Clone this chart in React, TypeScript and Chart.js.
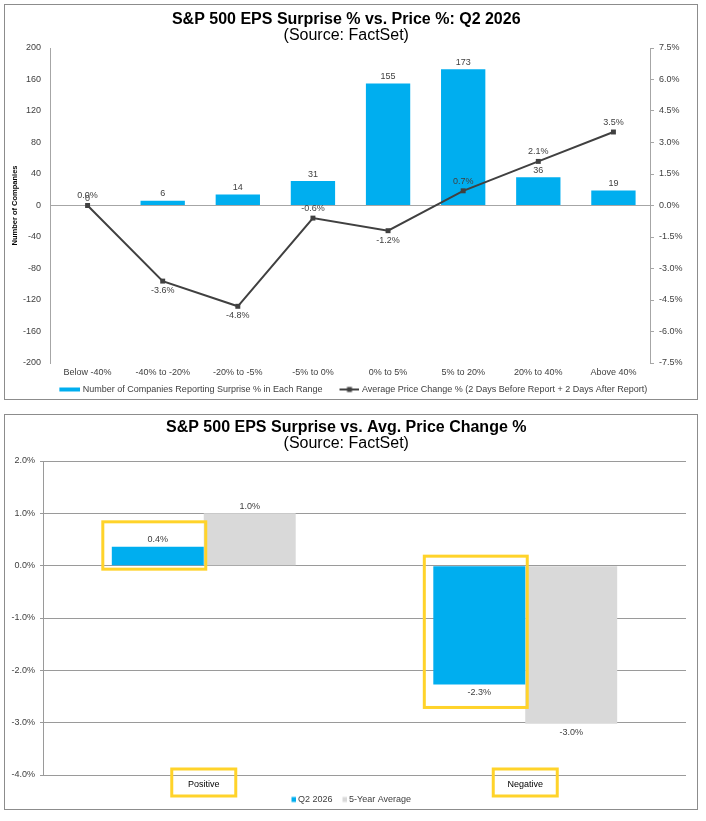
import React, { useEffect, useRef } from 'react';
import { Chart, registerables } from 'chart.js';

Chart.register(...registerables);

const FONT = "'Liberation Sans', Arial, Helvetica, sans-serif";
Chart.defaults.font.family = FONT;

// ---------- Top chart data ----------
const surpriseRanges = ['Below -40%', '-40% to -20%', '-20% to -5%', '-5% to 0%', '0% to 5%', '5% to 20%', '20% to 40%', 'Above 40%'];
const companyCounts = [0, 6, 14, 31, 155, 173, 36, 19];
const avgPriceChange = [0.0, -3.6, -4.8, -0.6, -1.2, 0.7, 2.1, 3.5];
const countTicks = [-200, -160, -120, -80, -40, 0, 40, 80, 120, 160, 200];
const priceTicks = [-7.5, -6.0, -4.5, -3.0, -1.5, 0.0, 1.5, 3.0, 4.5, 6.0, 7.5];
const topTitle = 'S&P 500 EPS Surprise % vs. Price %: Q2 2026';
const barSeriesName = 'Number of Companies Reporting Surprise % in Each Range';
const lineSeriesName = 'Average Price Change % (2 Days Before Report + 2 Days After Report)';

// label placement for line points (style)
const lineLabelAbove = [true, false, false, true, false, true, true, true];

// ---------- Bottom chart data ----------
const surpriseGroups = ['Positive', 'Negative'];
const q2Change = [0.36, -2.27];
const fiveYearChange = [1.0, -3.02];
const changeTicks = [-4, -3, -2, -1, 0, 1, 2];
const bottomTitle = 'S&P 500 EPS Surprise vs. Avg. Price Change %';
const q2Name = 'Q2 2026';
const fiveYearName = '5-Year Average';

const SOURCE = '(Source: FactSet)';

// ---------- styles ----------
const BLUE = '#00AEEF';
const GRAY_BAR = '#D9D9D9';
const DARK = '#404040';
const AXIS = '#A6A6A6';
const GRID = '#9A9A9A';
const YELLOW = '#FFD32A';
const LABEL = '#404040';

function makeSwatch(kind: 'bar' | 'line' | 'square', color: string) {
  const w = kind === 'square' ? 18 : 37;
  const h = 8;
  const c = document.createElement('canvas');
  c.width = w;
  c.height = h;
  const ctx = c.getContext('2d')!;
  if (kind === 'bar') {
    ctx.fillStyle = color;
    ctx.fillRect(16, h / 2 - 2, w - 16, 4);
  } else if (kind === 'line') {
    ctx.strokeStyle = color;
    ctx.lineWidth = 2;
    ctx.beginPath();
    ctx.moveTo(17, h / 2);
    ctx.lineTo(w, h / 2);
    ctx.stroke();
    ctx.fillStyle = color;
    ctx.fillRect(27 - 2.5, h / 2 - 2.5, 5, 5);
  } else {
    ctx.fillStyle = color;
    ctx.fillRect(w - 5, h / 2 - 2.5, 5, 5);
  }
  return c;
}

const topLabelsPlugin = {
  id: 'topLabels',
  afterDatasetsDraw(chart: any) {
    const ctx = chart.ctx;
    ctx.save();
    ctx.font = `9px ${FONT}`;
    ctx.fillStyle = LABEL;
    ctx.textAlign = 'center';
    ctx.textBaseline = 'middle';
    const barMeta = chart.getDatasetMeta(0);
    barMeta.data.forEach((el: any, i: number) => {
      ctx.fillText(String(companyCounts[i]), el.x, el.y - 7);
    });
    const lineMeta = chart.getDatasetMeta(1);
    lineMeta.data.forEach((el: any, i: number) => {
      const dy = lineLabelAbove[i] ? -9.5 : 9.5;
      ctx.fillText(avgPriceChange[i].toFixed(1) + '%', el.x, el.y + dy);
    });
    ctx.restore();
  },
};

const X_PAD_BOTTOM = 4.6;

const bottomLabelsPlugin = {
  id: 'bottomLabels',
  afterDatasetsDraw(chart: any) {
    const ctx = chart.ctx;
    ctx.save();
    ctx.font = `9px ${FONT}`;
    ctx.fillStyle = LABEL;
    ctx.textAlign = 'center';
    ctx.textBaseline = 'middle';
    [q2Change, fiveYearChange].forEach((vals, d) => {
      const meta = chart.getDatasetMeta(d);
      meta.data.forEach((el: any, i: number) => {
        const v = vals[i];
        const y = v >= 0 ? el.y - 7 : el.y + 8.5;
        ctx.fillText(v.toFixed(1) + '%', el.x, y);
      });
    });
    ctx.restore();
  },
  afterDraw(chart: any) {
    const ctx = chart.ctx;
    ctx.save();
    ctx.strokeStyle = YELLOW;
    ctx.lineWidth = 3;
    // boxes around the Q2 bars with their labels
    const meta = chart.getDatasetMeta(0);
    meta.data.forEach((el: any, i: number) => {
      const half = el.width / 2;
      const left = el.x - half - 9;
      const right = el.x + half + 2;
      let top: number;
      let bottom: number;
      if (q2Change[i] >= 0) {
        top = el.y - 25;
        bottom = el.base + 4;
      } else {
        top = el.base - 10;
        bottom = el.y + 23;
      }
      ctx.strokeRect(left, top, right - left, bottom - top);
    });
    // boxes around category labels
    const xs = chart.scales.x;
    const labelY = xs.top + X_PAD_BOTTOM + 5.4;
    surpriseGroups.forEach((_, i) => {
      const cx = xs.getPixelForTick(i);
      ctx.strokeRect(cx - 32, labelY - 16, 64, 27);
    });
    ctx.restore();
  },
};

function buildTop(canvas: HTMLCanvasElement) {
  const swatches = [makeSwatch('bar', BLUE), makeSwatch('line', DARK)];
  return new Chart(canvas, {
    type: 'bar',
    data: {
      labels: surpriseRanges,
      datasets: [
        {
          type: 'bar',
          label: barSeriesName,
          data: companyCounts,
          backgroundColor: BLUE,
          borderWidth: 0,
          yAxisID: 'y',
          categoryPercentage: 1,
          barPercentage: 0.59,
          order: 2,
        } as any,
        {
          type: 'line',
          label: lineSeriesName,
          data: avgPriceChange,
          borderColor: DARK,
          backgroundColor: DARK,
          borderWidth: 2,
          pointStyle: 'rect',
          pointRadius: 3.5,
          pointBorderWidth: 0,
          pointBackgroundColor: DARK,
          tension: 0,
          yAxisID: 'y1',
          order: 1,
        } as any,
      ],
    },
    options: {
      animation: false,
      responsive: false,
      maintainAspectRatio: false,
      layout: { padding: { left: 0, right: 9.5, top: 0, bottom: 0 } },
      plugins: {
        title: {
          display: true,
          text: topTitle,
          color: '#000',
          font: { family: FONT, size: 16, weight: 'bold', lineHeight: 1 },
          padding: { top: 6.5, bottom: 0 },
        },
        subtitle: {
          display: true,
          text: SOURCE,
          color: '#000',
          font: { family: FONT, size: 16, lineHeight: 1 },
          padding: { top: 0, bottom: 4.5 },
        },
        legend: {
          position: 'bottom',
          labels: {
            usePointStyle: true,
            pointStyleWidth: 33,
            padding: 2,
            color: LABEL,
            font: { family: FONT, size: 9 },
            sort: (a: any, b: any) => a.datasetIndex - b.datasetIndex,
            generateLabels: (chart: any) => {
              const items = (Chart.defaults.plugins.legend.labels as any).generateLabels(chart);
              items.forEach((it: any) => {
                it.pointStyle = swatches[it.datasetIndex];
              });
              return items;
            },
          },
        },
        tooltip: { enabled: false },
      },
      scales: {
        x: {
          grid: { display: false, drawTicks: false },
          border: { display: false },
          ticks: { padding: 4.6, color: LABEL, font: { size: 9 }, maxRotation: 0, autoSkip: false },
        },
        y: {
          position: 'left',
          min: countTicks[0],
          max: countTicks[countTicks.length - 1],
          afterBuildTicks: (s: any) => {
            s.ticks = countTicks.map((v) => ({ value: v }));
          },
          grid: {
            drawTicks: false,
            color: (c: any) => (c.tick && c.tick.value === 0 ? AXIS : 'rgba(0,0,0,0)'),
          },
          border: { display: true, color: AXIS },
          ticks: { padding: 9, color: LABEL, font: { size: 9 } },
          title: {
            display: true,
            text: 'Number of Companies',
            color: '#000',
            font: { family: FONT, size: 7.5, weight: 'bold' },
            padding: { top: 5.5, bottom: -5.5 },
          },
        },
        y1: {
          position: 'right',
          min: priceTicks[0],
          max: priceTicks[priceTicks.length - 1],
          afterBuildTicks: (s: any) => {
            s.ticks = priceTicks.map((v) => ({ value: v }));
          },
          grid: { drawOnChartArea: false, drawTicks: true, tickLength: 3, color: AXIS },
          border: { display: true, color: AXIS },
          ticks: {
            padding: 5,
            color: LABEL,
            font: { size: 9 },
            callback: (v: any) => Number(v).toFixed(1) + '%',
          },
        },
      },
    } as any,
    plugins: [topLabelsPlugin],
  });
}

function buildBottom(canvas: HTMLCanvasElement) {
  const swatches = [makeSwatch('square', BLUE), makeSwatch('square', GRAY_BAR)];
  return new Chart(canvas, {
    type: 'bar',
    data: {
      labels: surpriseGroups,
      datasets: [
        {
          label: q2Name,
          data: q2Change,
          backgroundColor: BLUE,
          borderWidth: 0,
          categoryPercentage: 0.572,
          barPercentage: 1,
        },
        {
          label: fiveYearName,
          data: fiveYearChange,
          backgroundColor: GRAY_BAR,
          borderWidth: 0,
          categoryPercentage: 0.572,
          barPercentage: 1,
        },
      ],
    },
    options: {
      animation: false,
      responsive: false,
      maintainAspectRatio: false,
      layout: { padding: { left: 1.5, right: 11, top: 0, bottom: 0 } },
      plugins: {
        title: {
          display: true,
          text: bottomTitle,
          color: '#000',
          font: { family: FONT, size: 16, weight: 'bold', lineHeight: 1 },
          padding: { top: 5, bottom: 0 },
        },
        subtitle: {
          display: true,
          text: SOURCE,
          color: '#000',
          font: { family: FONT, size: 16, lineHeight: 1 },
          padding: { top: 0, bottom: 9 },
        },
        legend: {
          position: 'bottom',
          labels: {
            usePointStyle: true,
            pointStyleWidth: 12,
            padding: 0,
            color: LABEL,
            font: { family: FONT, size: 9 },
            sort: (a: any, b: any) => a.datasetIndex - b.datasetIndex,
            generateLabels: (chart: any) => {
              const items = (Chart.defaults.plugins.legend.labels as any).generateLabels(chart);
              items.forEach((it: any) => {
                it.pointStyle = swatches[it.datasetIndex];
              });
              return items;
            },
          },
        },
        tooltip: { enabled: false },
      },
      scales: {
        x: {
          grid: { display: false, drawTicks: false },
          border: { display: false },
          ticks: { padding: X_PAD_BOTTOM, color: '#000', font: { size: 9 }, maxRotation: 0 },
        },
        y: {
          min: changeTicks[0],
          max: changeTicks[changeTicks.length - 1],
          afterBuildTicks: (s: any) => {
            s.ticks = changeTicks.map((v) => ({ value: v }));
          },
          grid: { color: GRID, tickLength: 3, drawTicks: true },
          border: { display: true, color: GRID },
          ticks: {
            padding: 5,
            color: LABEL,
            font: { size: 9 },
            callback: (v: any) => Number(v).toFixed(1) + '%',
          },
        },
      },
    } as any,
    plugins: [bottomLabelsPlugin],
  });
}

function ChartFrame({ top, build }: { top: number; build: (c: HTMLCanvasElement) => Chart }) {
  const ref = useRef<HTMLCanvasElement>(null);
  useEffect(() => {
    const chart = build(ref.current!);
    return () => chart.destroy();
  }, []);
  return (
    <div
      style={{
        position: 'absolute',
        left: 4,
        top,
        width: 694,
        height: 396,
        border: '1px solid #8C8C8C',
        boxSizing: 'border-box',
        background: '#fff',
      }}
    >
      <canvas
        ref={ref}
        width={692}
        height={399}
        style={{ position: 'absolute', left: 0, top: 0, width: 692, height: 399 }}
      />
    </div>
  );
}

export default function App() {
  return (
    <div style={{ position: 'absolute', left: 0, top: 0, width: 706, height: 821, background: '#fff', overflow: 'hidden' }}>
      <ChartFrame top={4} build={buildTop} />
      <ChartFrame top={414} build={buildBottom} />
    </div>
  );
}
